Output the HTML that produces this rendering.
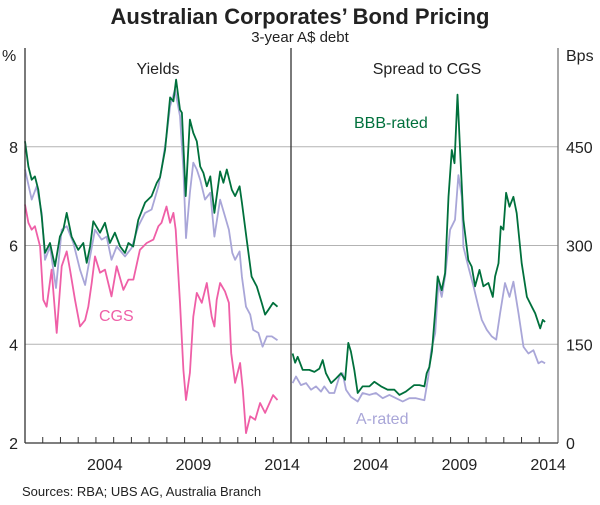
<!DOCTYPE html>
<html><head><meta charset="utf-8"><style>
body{margin:0;background:#fff;}
svg text{font-family:"Liberation Sans",Arial,sans-serif;}
</style></head><body>
<svg id="chart" width="600" height="500" viewBox="0 0 600 500" xmlns="http://www.w3.org/2000/svg">
<text x="300" y="24" text-anchor="middle" font-size="22" font-weight="bold" fill="#222">Australian Corporates’ Bond Pricing</text>
<text x="300" y="42" text-anchor="middle" font-size="15" fill="#222">3-year A$ debt</text>
<g id="grid"></g>
<g id="series"></g>
<g id="axes"></g>
<text x="2" y="61" font-size="16" fill="#222">%</text>
<text x="566" y="61" font-size="16" fill="#222">Bps</text>
<text x="158" y="74" text-anchor="middle" font-size="16" fill="#222">Yields</text>
<text x="427" y="74" text-anchor="middle" font-size="16" fill="#222">Spread to CGS</text>
<text x="354" y="128" font-size="16" fill="#00703c">BBB-rated</text>
<text x="356" y="424" font-size="16" fill="#a9a6d8">A-rated</text>
<text x="99" y="321" font-size="16" fill="#ef5fa7">CGS</text>
<text x="22" y="496" font-size="13" fill="#222">Sources: RBA; UBS AG, Australia Branch</text>
</svg>
<script>
// Left panel (yields, %) — [years since 2000, value]
const yBBB=[[0,8.11],[0.19,7.6],[0.38,7.33],[0.56,7.4],[0.75,7.13],[0.94,6.59],[1.13,5.85],[1.41,6.05],[1.69,5.58],[1.97,6.18],[2.16,6.32],[2.35,6.66],[2.63,6.18],[3.0,5.91],[3.29,6.05],[3.48,5.65],[3.67,5.98],[3.85,6.49],[4.23,6.26],[4.51,6.46],[4.79,6.05],[5.07,6.26],[5.36,5.98],[5.64,5.85],[5.83,6.05],[6.1,5.98],[6.39,6.52],[6.77,6.87],[7.14,7.0],[7.43,7.27],[7.61,7.38],[7.9,7.94],[8.18,9.0],[8.37,8.92],[8.52,9.36],[8.74,8.75],[8.85,8.69],[9.06,7.0],[9.3,8.55],[9.49,8.28],[9.69,8.11],[9.88,7.6],[10.06,7.47],[10.25,7.2],[10.45,7.4],[10.68,6.66],[11.0,7.5],[11.19,7.27],[11.38,7.54],[11.66,7.13],[11.85,7.0],[12.1,7.2],[12.23,6.87],[12.5,6.12],[12.78,5.37],[13.07,5.17],[13.35,4.84],[13.54,4.6],[13.73,4.7],[13.99,4.84],[14.24,4.76]];
const yA=[[0,7.54],[0.38,6.93],[0.66,7.2],[0.94,6.66],[1.13,5.71],[1.41,5.98],[1.75,5.14],[2.07,6.32],[2.35,6.39],[2.73,6.05],[3.1,5.51],[3.39,5.2],[3.67,5.78],[3.95,6.32],[4.32,6.12],[4.6,6.18],[4.88,5.71],[5.17,5.98],[5.64,5.78],[6.01,5.95],[6.39,6.39],[6.77,6.66],[7.14,6.73],[7.52,7.2],[7.7,7.54],[7.98,8.21],[8.18,8.82],[8.46,9.16],[8.74,8.62],[8.93,7.54],[9.08,6.15],[9.3,7.07],[9.49,7.68],[9.69,7.54],[9.88,7.33],[10.15,6.93],[10.45,7.07],[10.68,6.18],[11.0,6.93],[11.28,6.59],[11.5,6.32],[11.69,5.85],[11.85,5.71],[12.1,5.88],[12.23,5.37],[12.46,4.76],[12.7,4.6],[12.87,4.29],[13.16,4.23],[13.4,3.95],[13.64,4.16],[13.92,4.16],[14.24,4.08]];
const yCGS=[[0,6.83],[0.19,6.46],[0.38,6.32],[0.56,6.39],[0.85,5.98],[1.03,4.9],[1.22,4.76],[1.5,5.51],[1.79,4.23],[2.07,5.58],[2.35,5.88],[2.54,5.51],[2.82,4.9],[3.1,4.36],[3.39,4.49],[3.57,4.76],[3.76,5.24],[3.95,5.78],[4.23,5.45],[4.51,5.51],[4.88,4.97],[5.17,5.58],[5.55,5.1],[5.83,5.31],[6.11,5.31],[6.48,5.91],[6.86,6.05],[7.24,6.12],[7.52,6.39],[7.7,6.46],[7.98,6.79],[8.18,6.46],[8.37,6.66],[8.5,6.32],[8.74,4.84],[8.93,3.48],[9.08,2.87],[9.3,3.42],[9.49,4.56],[9.69,5.04],[9.97,4.84],[10.25,5.24],[10.53,4.56],[10.68,4.36],[10.81,4.9],[11.0,5.24],[11.28,5.07],[11.5,4.84],[11.63,3.82],[11.85,3.22],[12.13,3.62],[12.28,3.08],[12.46,2.2],[12.7,2.54],[12.98,2.47],[13.26,2.81],[13.54,2.61],[13.99,2.97],[14.24,2.87]];
// Right panel (spread, bps)
const sBBB=[[0.09,136],[0.23,122],[0.38,131],[0.66,111],[1.03,111],[1.32,108],[1.6,113],[1.79,126],[1.97,106],[2.26,91],[2.54,98],[2.82,106],[3.05,96],[3.23,152],[3.38,139],[3.57,111],[3.76,76],[4.04,86],[4.42,86],[4.7,93],[5.08,86],[5.45,81],[5.83,81],[6.11,73],[6.48,78],[6.95,88],[7.24,88],[7.52,86],[7.65,106],[7.8,115],[7.95,140],[8.13,200],[8.27,253],[8.5,232],[8.69,258],[8.88,374],[9.07,445],[9.22,425],[9.39,529],[9.57,425],[9.72,339],[10.0,278],[10.19,268],[10.38,238],[10.63,263],[10.85,238],[11.13,243],[11.38,222],[11.51,253],[11.7,273],[11.83,329],[11.98,324],[12.13,380],[12.32,359],[12.54,374],[12.73,349],[13.01,273],[13.3,222],[13.58,207],[13.77,197],[14.05,174],[14.2,187],[14.33,184]];
const sA=[[0.09,91],[0.28,101],[0.56,88],[0.85,91],[1.13,81],[1.41,86],[1.69,78],[1.88,86],[2.16,76],[2.44,76],[2.73,101],[2.91,106],[3.1,81],[3.38,70],[3.76,63],[4.04,76],[4.42,73],[4.79,76],[5.17,68],[5.55,73],[5.92,68],[6.3,63],[6.67,68],[7.05,68],[7.52,65],[7.74,101],[7.9,140],[8.13,167],[8.31,243],[8.5,222],[8.69,253],[8.97,324],[9.25,339],[9.44,407],[9.63,374],[9.72,298],[10.0,268],[10.29,238],[10.57,207],[10.76,187],[11.04,172],[11.32,162],[11.57,157],[11.79,197],[12.07,243],[12.32,222],[12.54,245],[12.83,197],[13.11,146],[13.39,136],[13.67,141],[13.95,121],[14.14,124],[14.33,121]];
const leftTicks=[2,4,6,8];
const rightTicks=[0,150,300,450];
const yearLabels=[2004,2009,2014];

const L0=25, MID=291, R1=558, TOP=48, BOT=443, YR=(MID-L0)/15;
const xL=t=>L0+t*YR, xR=t=>MID+t*YR;
const yPct=v=>BOT-(v-2)/8*(BOT-TOP);
const yBps=v=>BOT-v/600*(BOT-TOP);
const NS="http://www.w3.org/2000/svg";
function mk(tag,parent,attrs){const e=document.createElementNS(NS,tag);for(const k in attrs)e.setAttribute(k,attrs[k]);document.getElementById(parent).appendChild(e);return e;}

leftTicks.forEach((v,i)=>{
  if(v>2){const g=mk('line','grid',{x1:L0,x2:R1,y1:yPct(v),y2:yPct(v),stroke:'#b3b3b3','stroke-width':1});
  
  }
  const t=mk('text','axes',{x:18,y:yPct(v)+6,'text-anchor':'end','font-size':16,fill:'#222'});t.textContent=v;
  
  
});
rightTicks.forEach(v=>{
  const t=mk('text','axes',{x:566,y:yBps(v)+6,'font-size':16,fill:'#222'});t.textContent=v;
  
  
});
// frame
[[L0,TOP,L0,BOT,'#333'],[MID,TOP,MID,BOT,'#333'],[R1,TOP,R1,BOT,'#777'],[L0,BOT,R1,BOT,'#333']].forEach(a=>{
  const l=mk('line','axes',{x1:a[0],y1:a[1],x2:a[2],y2:a[3],stroke:a[4],'stroke-width':1.3});
  
  
});
for(let i=1;i<15;i++){[xL(i),xR(i)].forEach(x=>{
  const l=mk('line','axes',{x1:x,x2:x,y1:BOT,y2:BOT-6,stroke:'#333','stroke-width':1});
  
  
});}
yearLabels.forEach(yr=>{[xL,xR].forEach(f=>{
  const t=mk('text','axes',{x:f(yr-2000+0.5),y:470,'text-anchor':'middle','font-size':16,fill:'#222'});t.textContent=yr;
  
  
});});
function line(data,fx,fy,color,name){
  const d=data.map((p,i)=>(i?'L':'M')+fx(p[0]).toFixed(1)+','+fy(p[1]).toFixed(1)).join('');
  const p=mk('path','series',{d:d,fill:'none',stroke:color,'stroke-width':1.8,'stroke-linejoin':'round'});
  
  
}
line(yCGS,xL,yPct,'#ef5fa7','cgs-yield-line');
line(yA,xL,yPct,'#a9a6d8','a-rated-yield-line');
line(yBBB,xL,yPct,'#00703c','bbb-yield-line');
line(sA,xR,yBps,'#a9a6d8','a-rated-spread-line');
line(sBBB,xR,yBps,'#00703c','bbb-spread-line');
</script>
</body></html>
